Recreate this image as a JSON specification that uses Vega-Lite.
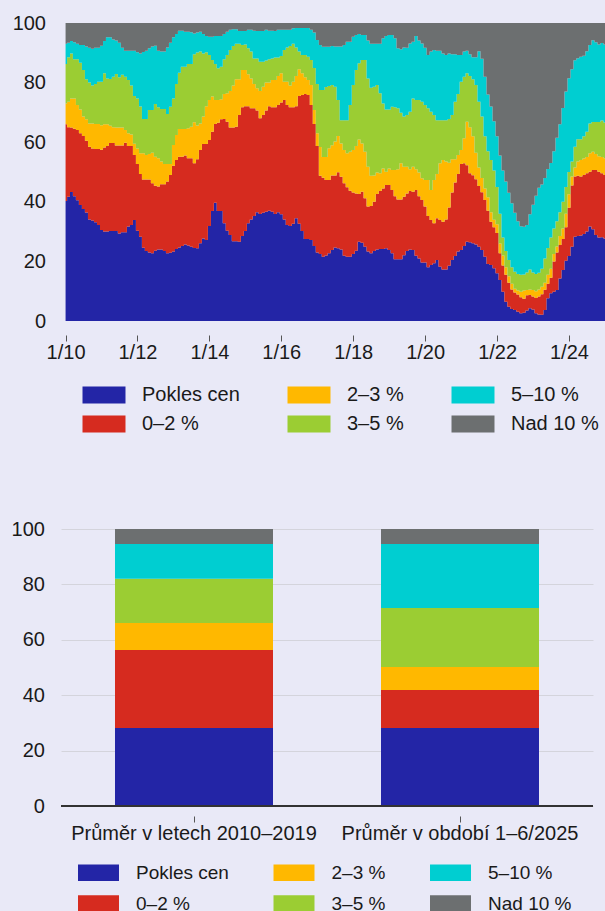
{
"$schema": "https://vega.github.io/schema/vega-lite/v6.json",
"background": "#e9e9f7",
"padding": {"left": 11, "top": 13, "right": 0, "bottom": 0},
"spacing": 85,
"config": {
  "view": {"stroke": null},
  "font": "Liberation Sans",
  "axis": {"labelFont": "Liberation Sans", "labelFontSize": 20, "labelColor": "#1a1a1a", "title": null, "labelFlush": false, "labelOverlap": false},
  "legend": {"labelFont": "Liberation Sans", "labelColor": "#1a1a1a"}
},
"resolve": {"scale": {"color": "independent", "x": "independent", "y": "independent"}, "legend": {"color": "independent"}},
"vconcat": [
{
  "width": 544, "height": 298,
  "data": {"values": [
{"d":"2010-01-01T00:00","Pokles cen":40.3,"0–2 %":25.7,"2–3 %":7.0,"3–5 %":13.2,"5–10 %":6.8,"Nad 10 %":7.0},
{"d":"2010-02-01T00:00","Pokles cen":41.7,"0–2 %":23.3,"2–3 %":8.6,"3–5 %":14.9,"5–10 %":4.9,"Nad 10 %":6.6},
{"d":"2010-03-01T00:00","Pokles cen":43.3,"0–2 %":21.6,"2–3 %":9.8,"3–5 %":15.1,"5–10 %":4.2,"Nad 10 %":6.0},
{"d":"2010-04-01T00:00","Pokles cen":41.9,"0–2 %":22.6,"2–3 %":10.2,"3–5 %":13.1,"5–10 %":5.7,"Nad 10 %":6.5},
{"d":"2010-05-01T00:00","Pokles cen":40.5,"0–2 %":23.6,"2–3 %":8.4,"3–5 %":15.3,"5–10 %":5.2,"Nad 10 %":7.0},
{"d":"2010-06-01T00:00","Pokles cen":38.9,"0–2 %":24.1,"2–3 %":8.0,"3–5 %":15.7,"5–10 %":5.9,"Nad 10 %":7.4},
{"d":"2010-07-01T00:00","Pokles cen":37.6,"0–2 %":24.5,"2–3 %":6.5,"3–5 %":15.6,"5–10 %":8.4,"Nad 10 %":7.4},
{"d":"2010-08-01T00:00","Pokles cen":36.4,"0–2 %":24.1,"2–3 %":7.2,"3–5 %":13.4,"5–10 %":11.0,"Nad 10 %":7.9},
{"d":"2010-09-01T00:00","Pokles cen":34.1,"0–2 %":24.4,"2–3 %":7.8,"3–5 %":13.7,"5–10 %":11.7,"Nad 10 %":8.3},
{"d":"2010-10-01T00:00","Pokles cen":33.7,"0–2 %":24.2,"2–3 %":8.4,"3–5 %":12.7,"5–10 %":12.4,"Nad 10 %":8.6},
{"d":"2010-11-01T00:00","Pokles cen":33.1,"0–2 %":24.6,"2–3 %":8.4,"3–5 %":13.4,"5–10 %":12.2,"Nad 10 %":8.3},
{"d":"2010-12-01T00:00","Pokles cen":32.2,"0–2 %":25.5,"2–3 %":8.4,"3–5 %":14.2,"5–10 %":11.4,"Nad 10 %":8.3},
{"d":"2011-01-01T00:00","Pokles cen":30.5,"0–2 %":27.0,"2–3 %":8.2,"3–5 %":14.6,"5–10 %":12.1,"Nad 10 %":7.6},
{"d":"2011-02-01T00:00","Pokles cen":30.0,"0–2 %":28.2,"2–3 %":7.8,"3–5 %":17.1,"5–10 %":10.9,"Nad 10 %":6.0},
{"d":"2011-03-01T00:00","Pokles cen":30.0,"0–2 %":28.7,"2–3 %":7.3,"3–5 %":15.4,"5–10 %":13.8,"Nad 10 %":4.8},
{"d":"2011-04-01T00:00","Pokles cen":30.2,"0–2 %":29.5,"2–3 %":5.8,"3–5 %":15.7,"5–10 %":14.0,"Nad 10 %":4.8},
{"d":"2011-05-01T00:00","Pokles cen":30.2,"0–2 %":29.5,"2–3 %":5.3,"3–5 %":17.0,"5–10 %":12.5,"Nad 10 %":5.5},
{"d":"2011-06-01T00:00","Pokles cen":30.2,"0–2 %":28.7,"2–3 %":6.0,"3–5 %":18.0,"5–10 %":11.2,"Nad 10 %":5.9},
{"d":"2011-07-01T00:00","Pokles cen":29.4,"0–2 %":29.5,"2–3 %":6.0,"3–5 %":16.9,"5–10 %":11.6,"Nad 10 %":6.6},
{"d":"2011-08-01T00:00","Pokles cen":29.8,"0–2 %":29.1,"2–3 %":6.0,"3–5 %":17.7,"5–10 %":9.1,"Nad 10 %":8.3},
{"d":"2011-09-01T00:00","Pokles cen":29.8,"0–2 %":30.0,"2–3 %":4.3,"3–5 %":17.9,"5–10 %":8.7,"Nad 10 %":9.3},
{"d":"2011-10-01T00:00","Pokles cen":31.7,"0–2 %":27.0,"2–3 %":4.3,"3–5 %":17.9,"5–10 %":9.8,"Nad 10 %":9.3},
{"d":"2011-11-01T00:00","Pokles cen":32.2,"0–2 %":26.5,"2–3 %":3.9,"3–5 %":16.4,"5–10 %":11.7,"Nad 10 %":9.3},
{"d":"2011-12-01T00:00","Pokles cen":33.9,"0–2 %":21.8,"2–3 %":3.8,"3–5 %":16.0,"5–10 %":15.2,"Nad 10 %":9.3},
{"d":"2012-01-01T00:00","Pokles cen":30.3,"0–2 %":22.4,"2–3 %":5.2,"3–5 %":16.8,"5–10 %":15.5,"Nad 10 %":9.8},
{"d":"2012-02-01T00:00","Pokles cen":28.3,"0–2 %":21.0,"2–3 %":7.0,"3–5 %":15.7,"5–10 %":17.8,"Nad 10 %":10.2},
{"d":"2012-03-01T00:00","Pokles cen":24.6,"0–2 %":22.9,"2–3 %":8.8,"3–5 %":11.5,"5–10 %":22.5,"Nad 10 %":9.7},
{"d":"2012-04-01T00:00","Pokles cen":23.5,"0–2 %":24.0,"2–3 %":8.2,"3–5 %":12.1,"5–10 %":22.9,"Nad 10 %":9.3},
{"d":"2012-05-01T00:00","Pokles cen":23.0,"0–2 %":24.5,"2–3 %":8.5,"3–5 %":14.8,"5–10 %":20.7,"Nad 10 %":8.5},
{"d":"2012-06-01T00:00","Pokles cen":22.7,"0–2 %":23.5,"2–3 %":10.3,"3–5 %":14.3,"5–10 %":21.3,"Nad 10 %":7.9},
{"d":"2012-07-01T00:00","Pokles cen":23.6,"0–2 %":21.8,"2–3 %":9.7,"3–5 %":17.7,"5–10 %":19.6,"Nad 10 %":7.6},
{"d":"2012-08-01T00:00","Pokles cen":24.0,"0–2 %":21.1,"2–3 %":9.5,"3–5 %":17.1,"5–10 %":19.0,"Nad 10 %":9.3},
{"d":"2012-09-01T00:00","Pokles cen":24.0,"0–2 %":21.9,"2–3 %":7.6,"3–5 %":17.6,"5–10 %":19.3,"Nad 10 %":9.6},
{"d":"2012-10-01T00:00","Pokles cen":23.5,"0–2 %":22.4,"2–3 %":6.8,"3–5 %":18.4,"5–10 %":19.3,"Nad 10 %":9.6},
{"d":"2012-11-01T00:00","Pokles cen":22.7,"0–2 %":24.1,"2–3 %":5.9,"3–5 %":16.8,"5–10 %":22.3,"Nad 10 %":8.2},
{"d":"2012-12-01T00:00","Pokles cen":22.9,"0–2 %":26.1,"2–3 %":3.7,"3–5 %":19.2,"5–10 %":21.5,"Nad 10 %":6.6},
{"d":"2013-01-01T00:00","Pokles cen":23.3,"0–2 %":28.8,"2–3 %":7.0,"3–5 %":15.6,"5–10 %":20.5,"Nad 10 %":4.8},
{"d":"2013-02-01T00:00","Pokles cen":24.2,"0–2 %":29.8,"2–3 %":8.4,"3–5 %":17.1,"5–10 %":16.8,"Nad 10 %":3.7},
{"d":"2013-03-01T00:00","Pokles cen":24.7,"0–2 %":30.4,"2–3 %":9.3,"3–5 %":18.9,"5–10 %":14.1,"Nad 10 %":2.6},
{"d":"2013-04-01T00:00","Pokles cen":25.2,"0–2 %":29.9,"2–3 %":9.3,"3–5 %":20.9,"5–10 %":12.1,"Nad 10 %":2.6},
{"d":"2013-05-01T00:00","Pokles cen":25.7,"0–2 %":29.8,"2–3 %":8.9,"3–5 %":20.9,"5–10 %":11.8,"Nad 10 %":2.9},
{"d":"2013-06-01T00:00","Pokles cen":25.3,"0–2 %":29.3,"2–3 %":10.1,"3–5 %":21.5,"5–10 %":10.9,"Nad 10 %":2.9},
{"d":"2013-07-01T00:00","Pokles cen":24.9,"0–2 %":29.7,"2–3 %":10.6,"3–5 %":21.0,"5–10 %":10.7,"Nad 10 %":3.1},
{"d":"2013-08-01T00:00","Pokles cen":24.5,"0–2 %":28.4,"2–3 %":13.8,"3–5 %":22.8,"5–10 %":7.0,"Nad 10 %":3.5},
{"d":"2013-09-01T00:00","Pokles cen":24.4,"0–2 %":29.9,"2–3 %":11.3,"3–5 %":24.5,"5–10 %":6.7,"Nad 10 %":3.2},
{"d":"2013-10-01T00:00","Pokles cen":26.1,"0–2 %":31.3,"2–3 %":8.9,"3–5 %":24.1,"5–10 %":6.7,"Nad 10 %":2.9},
{"d":"2013-11-01T00:00","Pokles cen":27.7,"0–2 %":31.7,"2–3 %":9.2,"3–5 %":21.2,"5–10 %":6.5,"Nad 10 %":3.7},
{"d":"2013-12-01T00:00","Pokles cen":27.2,"0–2 %":32.2,"2–3 %":12.7,"3–5 %":18.1,"5–10 %":5.4,"Nad 10 %":4.4},
{"d":"2014-01-01T00:00","Pokles cen":31.9,"0–2 %":28.8,"2–3 %":13.5,"3–5 %":15.1,"5–10 %":6.1,"Nad 10 %":4.6},
{"d":"2014-02-01T00:00","Pokles cen":36.9,"0–2 %":26.6,"2–3 %":11.8,"3–5 %":12.3,"5–10 %":7.8,"Nad 10 %":4.6},
{"d":"2014-03-01T00:00","Pokles cen":39.7,"0–2 %":26.4,"2–3 %":8.1,"3–5 %":12.0,"5–10 %":9.4,"Nad 10 %":4.4},
{"d":"2014-04-01T00:00","Pokles cen":36.9,"0–2 %":29.6,"2–3 %":7.7,"3–5 %":10.6,"5–10 %":10.8,"Nad 10 %":4.4},
{"d":"2014-05-01T00:00","Pokles cen":36.9,"0–2 %":30.8,"2–3 %":6.7,"3–5 %":10.9,"5–10 %":10.3,"Nad 10 %":4.4},
{"d":"2014-06-01T00:00","Pokles cen":32.8,"0–2 %":35.0,"2–3 %":8.4,"3–5 %":11.6,"5–10 %":8.5,"Nad 10 %":3.7},
{"d":"2014-07-01T00:00","Pokles cen":30.3,"0–2 %":36.6,"2–3 %":9.5,"3–5 %":12.9,"5–10 %":7.8,"Nad 10 %":2.9},
{"d":"2014-08-01T00:00","Pokles cen":28.9,"0–2 %":36.0,"2–3 %":12.3,"3–5 %":13.7,"5–10 %":6.8,"Nad 10 %":2.3},
{"d":"2014-09-01T00:00","Pokles cen":26.8,"0–2 %":38.1,"2–3 %":14.1,"3–5 %":13.3,"5–10 %":5.6,"Nad 10 %":2.1},
{"d":"2014-10-01T00:00","Pokles cen":26.8,"0–2 %":38.4,"2–3 %":15.9,"3–5 %":11.9,"5–10 %":4.9,"Nad 10 %":2.1},
{"d":"2014-11-01T00:00","Pokles cen":26.6,"0–2 %":42.5,"2–3 %":12.0,"3–5 %":11.9,"5–10 %":4.3,"Nad 10 %":2.7},
{"d":"2014-12-01T00:00","Pokles cen":28.5,"0–2 %":43.2,"2–3 %":12.5,"3–5 %":8.4,"5–10 %":4.7,"Nad 10 %":2.7},
{"d":"2015-01-01T00:00","Pokles cen":30.2,"0–2 %":41.9,"2–3 %":12.1,"3–5 %":8.6,"5–10 %":4.5,"Nad 10 %":2.7},
{"d":"2015-02-01T00:00","Pokles cen":32.8,"0–2 %":39.3,"2–3 %":10.7,"3–5 %":8.7,"5–10 %":6.2,"Nad 10 %":2.3},
{"d":"2015-03-01T00:00","Pokles cen":34.1,"0–2 %":37.3,"2–3 %":10.0,"3–5 %":9.0,"5–10 %":7.3,"Nad 10 %":2.3},
{"d":"2015-04-01T00:00","Pokles cen":35.2,"0–2 %":36.2,"2–3 %":8.1,"3–5 %":8.6,"5–10 %":9.3,"Nad 10 %":2.6},
{"d":"2015-05-01T00:00","Pokles cen":36.5,"0–2 %":34.1,"2–3 %":7.5,"3–5 %":10.0,"5–10 %":9.2,"Nad 10 %":2.7},
{"d":"2015-06-01T00:00","Pokles cen":35.9,"0–2 %":32.1,"2–3 %":9.2,"3–5 %":9.8,"5–10 %":10.3,"Nad 10 %":2.7},
{"d":"2015-07-01T00:00","Pokles cen":36.3,"0–2 %":32.8,"2–3 %":9.5,"3–5 %":8.4,"5–10 %":10.3,"Nad 10 %":2.7},
{"d":"2015-08-01T00:00","Pokles cen":36.7,"0–2 %":33.9,"2–3 %":9.4,"3–5 %":7.4,"5–10 %":10.3,"Nad 10 %":2.3},
{"d":"2015-09-01T00:00","Pokles cen":37.0,"0–2 %":35.1,"2–3 %":7.9,"3–5 %":7.8,"5–10 %":9.6,"Nad 10 %":2.6},
{"d":"2015-10-01T00:00","Pokles cen":36.7,"0–2 %":35.0,"2–3 %":9.2,"3–5 %":7.2,"5–10 %":9.3,"Nad 10 %":2.6},
{"d":"2015-11-01T00:00","Pokles cen":35.9,"0–2 %":35.8,"2–3 %":9.2,"3–5 %":7.5,"5–10 %":8.9,"Nad 10 %":2.7},
{"d":"2015-12-01T00:00","Pokles cen":36.5,"0–2 %":36.0,"2–3 %":9.7,"3–5 %":6.2,"5–10 %":9.3,"Nad 10 %":2.3},
{"d":"2016-01-01T00:00","Pokles cen":35.8,"0–2 %":37.5,"2–3 %":9.8,"3–5 %":5.8,"5–10 %":8.8,"Nad 10 %":2.3},
{"d":"2016-02-01T00:00","Pokles cen":34.1,"0–2 %":40.1,"2–3 %":6.1,"3–5 %":10.6,"5–10 %":6.8,"Nad 10 %":2.3},
{"d":"2016-03-01T00:00","Pokles cen":32.2,"0–2 %":40.3,"2–3 %":7.8,"3–5 %":11.5,"5–10 %":5.9,"Nad 10 %":2.3},
{"d":"2016-04-01T00:00","Pokles cen":31.9,"0–2 %":39.8,"2–3 %":7.3,"3–5 %":13.3,"5–10 %":5.4,"Nad 10 %":2.3},
{"d":"2016-05-01T00:00","Pokles cen":32.6,"0–2 %":39.1,"2–3 %":8.6,"3–5 %":12.7,"5–10 %":5.2,"Nad 10 %":1.8},
{"d":"2016-06-01T00:00","Pokles cen":34.5,"0–2 %":37.6,"2–3 %":10.1,"3–5 %":9.6,"5–10 %":6.5,"Nad 10 %":1.7},
{"d":"2016-07-01T00:00","Pokles cen":32.6,"0–2 %":42.9,"2–3 %":9.0,"3–5 %":5.9,"5–10 %":7.9,"Nad 10 %":1.7},
{"d":"2016-08-01T00:00","Pokles cen":30.2,"0–2 %":45.6,"2–3 %":7.3,"3–5 %":6.2,"5–10 %":9.0,"Nad 10 %":1.7},
{"d":"2016-09-01T00:00","Pokles cen":27.5,"0–2 %":48.7,"2–3 %":5.6,"3–5 %":7.5,"5–10 %":9.0,"Nad 10 %":1.7},
{"d":"2016-10-01T00:00","Pokles cen":27.5,"0–2 %":48.3,"2–3 %":5.1,"3–5 %":7.8,"5–10 %":9.6,"Nad 10 %":1.7},
{"d":"2016-11-01T00:00","Pokles cen":27.2,"0–2 %":45.3,"2–3 %":6.7,"3–5 %":8.4,"5–10 %":10.1,"Nad 10 %":2.3},
{"d":"2016-12-01T00:00","Pokles cen":25.2,"0–2 %":40.9,"2–3 %":4.7,"3–5 %":14.1,"5–10 %":11.9,"Nad 10 %":3.2},
{"d":"2017-01-01T00:00","Pokles cen":23.0,"0–2 %":35.7,"2–3 %":4.3,"3–5 %":16.5,"5–10 %":14.8,"Nad 10 %":5.7},
{"d":"2017-02-01T00:00","Pokles cen":22.5,"0–2 %":26.2,"2–3 %":9.7,"3–5 %":19.1,"5–10 %":15.1,"Nad 10 %":7.4},
{"d":"2017-03-01T00:00","Pokles cen":21.6,"0–2 %":26.5,"2–3 %":6.9,"3–5 %":22.5,"5–10 %":14.5,"Nad 10 %":8.0},
{"d":"2017-04-01T00:00","Pokles cen":22.0,"0–2 %":25.3,"2–3 %":7.7,"3–5 %":23.5,"5–10 %":13.5,"Nad 10 %":8.0},
{"d":"2017-05-01T00:00","Pokles cen":22.7,"0–2 %":24.6,"2–3 %":10.7,"3–5 %":20.9,"5–10 %":13.1,"Nad 10 %":8.0},
{"d":"2017-06-01T00:00","Pokles cen":23.8,"0–2 %":25.0,"2–3 %":10.2,"3–5 %":20.2,"5–10 %":13.1,"Nad 10 %":7.7},
{"d":"2017-07-01T00:00","Pokles cen":24.7,"0–2 %":24.1,"2–3 %":11.4,"3–5 %":18.4,"5–10 %":13.5,"Nad 10 %":7.9},
{"d":"2017-08-01T00:00","Pokles cen":24.4,"0–2 %":25.5,"2–3 %":12.2,"3–5 %":12.1,"5–10 %":17.9,"Nad 10 %":7.9},
{"d":"2017-09-01T00:00","Pokles cen":24.0,"0–2 %":24.4,"2–3 %":11.2,"3–5 %":7.8,"5–10 %":24.7,"Nad 10 %":7.9},
{"d":"2017-10-01T00:00","Pokles cen":21.9,"0–2 %":24.3,"2–3 %":11.2,"3–5 %":10.0,"5–10 %":25.2,"Nad 10 %":7.4},
{"d":"2017-11-01T00:00","Pokles cen":21.6,"0–2 %":23.3,"2–3 %":11.4,"3–5 %":11.1,"5–10 %":26.3,"Nad 10 %":6.3},
{"d":"2017-12-01T00:00","Pokles cen":21.6,"0–2 %":22.1,"2–3 %":13.1,"3–5 %":15.7,"5–10 %":21.2,"Nad 10 %":6.3},
{"d":"2018-01-01T00:00","Pokles cen":22.5,"0–2 %":20.6,"2–3 %":14.3,"3–5 %":21.8,"5–10 %":16.2,"Nad 10 %":4.6},
{"d":"2018-02-01T00:00","Pokles cen":23.6,"0–2 %":19.2,"2–3 %":15.9,"3–5 %":25.5,"5–10 %":11.8,"Nad 10 %":4.0},
{"d":"2018-03-01T00:00","Pokles cen":26.6,"0–2 %":16.0,"2–3 %":18.3,"3–5 %":25.6,"5–10 %":9.8,"Nad 10 %":3.7},
{"d":"2018-04-01T00:00","Pokles cen":26.3,"0–2 %":17.1,"2–3 %":16.2,"3–5 %":28.0,"5–10 %":8.4,"Nad 10 %":4.0},
{"d":"2018-05-01T00:00","Pokles cen":24.9,"0–2 %":16.3,"2–3 %":15.6,"3–5 %":30.8,"5–10 %":8.4,"Nad 10 %":4.0},
{"d":"2018-06-01T00:00","Pokles cen":23.3,"0–2 %":15.1,"2–3 %":13.4,"3–5 %":29.6,"5–10 %":12.7,"Nad 10 %":5.9},
{"d":"2018-07-01T00:00","Pokles cen":22.7,"0–2 %":15.9,"2–3 %":10.1,"3–5 %":29.6,"5–10 %":14.7,"Nad 10 %":7.0},
{"d":"2018-08-01T00:00","Pokles cen":23.5,"0–2 %":16.5,"2–3 %":8.8,"3–5 %":29.8,"5–10 %":14.4,"Nad 10 %":7.0},
{"d":"2018-09-01T00:00","Pokles cen":24.0,"0–2 %":18.6,"2–3 %":7.2,"3–5 %":29.4,"5–10 %":13.8,"Nad 10 %":7.0},
{"d":"2018-10-01T00:00","Pokles cen":24.2,"0–2 %":19.4,"2–3 %":6.0,"3–5 %":26.8,"5–10 %":16.6,"Nad 10 %":7.0},
{"d":"2018-11-01T00:00","Pokles cen":24.2,"0–2 %":20.3,"2–3 %":6.7,"3–5 %":21.8,"5–10 %":21.9,"Nad 10 %":5.1},
{"d":"2018-12-01T00:00","Pokles cen":24.4,"0–2 %":21.2,"2–3 %":4.5,"3–5 %":20.9,"5–10 %":24.6,"Nad 10 %":4.4},
{"d":"2019-01-01T00:00","Pokles cen":23.8,"0–2 %":21.8,"2–3 %":5.6,"3–5 %":19.8,"5–10 %":25.0,"Nad 10 %":4.0},
{"d":"2019-02-01T00:00","Pokles cen":22.7,"0–2 %":21.3,"2–3 %":6.7,"3–5 %":21.2,"5–10 %":24.1,"Nad 10 %":4.0},
{"d":"2019-03-01T00:00","Pokles cen":20.7,"0–2 %":21.2,"2–3 %":8.8,"3–5 %":21.0,"5–10 %":23.2,"Nad 10 %":5.1},
{"d":"2019-04-01T00:00","Pokles cen":20.7,"0–2 %":20.1,"2–3 %":10.1,"3–5 %":20.5,"5–10 %":20.1,"Nad 10 %":8.5},
{"d":"2019-05-01T00:00","Pokles cen":20.7,"0–2 %":20.1,"2–3 %":12.1,"3–5 %":17.0,"5–10 %":21.3,"Nad 10 %":8.8},
{"d":"2019-06-01T00:00","Pokles cen":22.1,"0–2 %":19.6,"2–3 %":10.1,"3–5 %":16.8,"5–10 %":23.2,"Nad 10 %":8.2},
{"d":"2019-07-01T00:00","Pokles cen":23.5,"0–2 %":19.3,"2–3 %":9.0,"3–5 %":17.3,"5–10 %":22.6,"Nad 10 %":8.3},
{"d":"2019-08-01T00:00","Pokles cen":24.0,"0–2 %":19.6,"2–3 %":7.3,"3–5 %":19.3,"5–10 %":22.9,"Nad 10 %":6.9},
{"d":"2019-09-01T00:00","Pokles cen":23.8,"0–2 %":19.6,"2–3 %":8.4,"3–5 %":22.9,"5–10 %":19.0,"Nad 10 %":6.3},
{"d":"2019-10-01T00:00","Pokles cen":21.9,"0–2 %":22.1,"2–3 %":6.9,"3–5 %":23.3,"5–10 %":21.4,"Nad 10 %":4.4},
{"d":"2019-11-01T00:00","Pokles cen":21.0,"0–2 %":20.9,"2–3 %":7.9,"3–5 %":24.4,"5–10 %":19.9,"Nad 10 %":5.9},
{"d":"2019-12-01T00:00","Pokles cen":19.6,"0–2 %":21.0,"2–3 %":7.3,"3–5 %":25.7,"5–10 %":19.5,"Nad 10 %":6.9},
{"d":"2020-01-01T00:00","Pokles cen":19.6,"0–2 %":18.8,"2–3 %":8.9,"3–5 %":25.2,"5–10 %":19.2,"Nad 10 %":8.3},
{"d":"2020-02-01T00:00","Pokles cen":18.0,"0–2 %":17.2,"2–3 %":12.1,"3–5 %":24.1,"5–10 %":17.9,"Nad 10 %":10.7},
{"d":"2020-03-01T00:00","Pokles cen":18.8,"0–2 %":15.1,"2–3 %":10.1,"3–5 %":26.2,"5–10 %":20.2,"Nad 10 %":9.6},
{"d":"2020-04-01T00:00","Pokles cen":19.4,"0–2 %":13.4,"2–3 %":14.5,"3–5 %":21.8,"5–10 %":21.8,"Nad 10 %":9.1},
{"d":"2020-05-01T00:00","Pokles cen":20.5,"0–2 %":14.0,"2–3 %":14.8,"3–5 %":18.1,"5–10 %":23.3,"Nad 10 %":9.3},
{"d":"2020-06-01T00:00","Pokles cen":18.2,"0–2 %":15.7,"2–3 %":19.0,"3–5 %":14.5,"5–10 %":23.3,"Nad 10 %":9.3},
{"d":"2020-07-01T00:00","Pokles cen":17.3,"0–2 %":16.0,"2–3 %":20.7,"3–5 %":13.4,"5–10 %":22.4,"Nad 10 %":10.2},
{"d":"2020-08-01T00:00","Pokles cen":17.3,"0–2 %":16.8,"2–3 %":19.4,"3–5 %":13.9,"5–10 %":21.9,"Nad 10 %":10.7},
{"d":"2020-09-01T00:00","Pokles cen":18.5,"0–2 %":19.6,"2–3 %":15.0,"3–5 %":14.7,"5–10 %":22.0,"Nad 10 %":10.2},
{"d":"2020-10-01T00:00","Pokles cen":20.5,"0–2 %":22.6,"2–3 %":11.2,"3–5 %":14.8,"5–10 %":20.4,"Nad 10 %":10.5},
{"d":"2020-11-01T00:00","Pokles cen":21.8,"0–2 %":24.7,"2–3 %":7.8,"3–5 %":19.3,"5–10 %":15.9,"Nad 10 %":10.5},
{"d":"2020-12-01T00:00","Pokles cen":23.3,"0–2 %":26.0,"2–3 %":6.4,"3–5 %":20.5,"5–10 %":13.1,"Nad 10 %":10.7},
{"d":"2021-01-01T00:00","Pokles cen":23.8,"0–2 %":28.9,"2–3 %":4.7,"3–5 %":22.9,"5–10 %":9.0,"Nad 10 %":10.7},
{"d":"2021-02-01T00:00","Pokles cen":25.2,"0–2 %":27.7,"2–3 %":8.4,"3–5 %":20.7,"5–10 %":8.4,"Nad 10 %":9.6},
{"d":"2021-03-01T00:00","Pokles cen":26.6,"0–2 %":25.7,"2–3 %":14.6,"3–5 %":16.2,"5–10 %":7.6,"Nad 10 %":9.3},
{"d":"2021-04-01T00:00","Pokles cen":26.4,"0–2 %":23.2,"2–3 %":15.4,"3–5 %":17.2,"5–10 %":7.3,"Nad 10 %":10.5},
{"d":"2021-05-01T00:00","Pokles cen":26.1,"0–2 %":22.8,"2–3 %":13.1,"3–5 %":19.1,"5–10 %":7.4,"Nad 10 %":11.5},
{"d":"2021-06-01T00:00","Pokles cen":25.7,"0–2 %":21.9,"2–3 %":8.9,"3–5 %":22.7,"5–10 %":9.3,"Nad 10 %":11.5},
{"d":"2021-07-01T00:00","Pokles cen":24.9,"0–2 %":20.4,"2–3 %":6.2,"3–5 %":22.1,"5–10 %":16.9,"Nad 10 %":9.5},
{"d":"2021-08-01T00:00","Pokles cen":23.8,"0–2 %":19.4,"2–3 %":4.8,"3–5 %":20.6,"5–10 %":19.4,"Nad 10 %":12.0},
{"d":"2021-09-01T00:00","Pokles cen":21.6,"0–2 %":19.0,"2–3 %":3.9,"3–5 %":17.5,"5–10 %":20.0,"Nad 10 %":18.0},
{"d":"2021-10-01T00:00","Pokles cen":19.1,"0–2 %":17.9,"2–3 %":4.5,"3–5 %":15.5,"5–10 %":19.0,"Nad 10 %":24.0},
{"d":"2021-11-01T00:00","Pokles cen":18.8,"0–2 %":14.5,"2–3 %":3.2,"3–5 %":17.5,"5–10 %":18.0,"Nad 10 %":28.0},
{"d":"2021-12-01T00:00","Pokles cen":17.7,"0–2 %":13.8,"2–3 %":2.5,"3–5 %":16.5,"5–10 %":16.5,"Nad 10 %":33.0},
{"d":"2022-01-01T00:00","Pokles cen":16.0,"0–2 %":13.5,"2–3 %":3.0,"3–5 %":12.5,"5–10 %":17.0,"Nad 10 %":38.0},
{"d":"2022-02-01T00:00","Pokles cen":13.8,"0–2 %":8.9,"2–3 %":3.3,"3–5 %":10.0,"5–10 %":19.5,"Nad 10 %":44.5},
{"d":"2022-03-01T00:00","Pokles cen":9.8,"0–2 %":8.8,"2–3 %":3.4,"3–5 %":6.0,"5–10 %":22.5,"Nad 10 %":49.5},
{"d":"2022-04-01T00:00","Pokles cen":6.5,"0–2 %":9.0,"2–3 %":2.5,"3–5 %":5.5,"5–10 %":23.3,"Nad 10 %":53.2},
{"d":"2022-05-01T00:00","Pokles cen":4.8,"0–2 %":8.0,"2–3 %":2.2,"3–5 %":5.5,"5–10 %":22.5,"Nad 10 %":57.0},
{"d":"2022-06-01T00:00","Pokles cen":4.0,"0–2 %":6.6,"2–3 %":1.9,"3–5 %":5.5,"5–10 %":21.5,"Nad 10 %":60.5},
{"d":"2022-07-01T00:00","Pokles cen":3.7,"0–2 %":5.9,"2–3 %":1.2,"3–5 %":5.7,"5–10 %":19.8,"Nad 10 %":63.7},
{"d":"2022-08-01T00:00","Pokles cen":3.1,"0–2 %":5.8,"2–3 %":1.3,"3–5 %":5.6,"5–10 %":17.7,"Nad 10 %":66.5},
{"d":"2022-09-01T00:00","Pokles cen":2.6,"0–2 %":5.4,"2–3 %":1.8,"3–5 %":5.7,"5–10 %":16.3,"Nad 10 %":68.2},
{"d":"2022-10-01T00:00","Pokles cen":2.8,"0–2 %":4.7,"2–3 %":2.7,"3–5 %":5.4,"5–10 %":16.0,"Nad 10 %":68.4},
{"d":"2022-11-01T00:00","Pokles cen":3.5,"0–2 %":5.1,"2–3 %":1.8,"3–5 %":5.9,"5–10 %":15.9,"Nad 10 %":67.8},
{"d":"2022-12-01T00:00","Pokles cen":4.3,"0–2 %":4.4,"2–3 %":1.9,"3–5 %":6.7,"5–10 %":18.5,"Nad 10 %":64.2},
{"d":"2023-01-01T00:00","Pokles cen":3.9,"0–2 %":4.3,"2–3 %":2.2,"3–5 %":5.9,"5–10 %":22.7,"Nad 10 %":61.0},
{"d":"2023-02-01T00:00","Pokles cen":2.6,"0–2 %":5.1,"2–3 %":2.3,"3–5 %":5.8,"5–10 %":26.2,"Nad 10 %":58.0},
{"d":"2023-03-01T00:00","Pokles cen":2.2,"0–2 %":6.0,"2–3 %":2.4,"3–5 %":5.6,"5–10 %":28.5,"Nad 10 %":55.3},
{"d":"2023-04-01T00:00","Pokles cen":2.1,"0–2 %":6.9,"2–3 %":2.5,"3–5 %":6.0,"5–10 %":28.3,"Nad 10 %":54.2},
{"d":"2023-05-01T00:00","Pokles cen":3.7,"0–2 %":6.8,"2–3 %":2.3,"3–5 %":8.2,"5–10 %":27.0,"Nad 10 %":52.0},
{"d":"2023-06-01T00:00","Pokles cen":7.6,"0–2 %":4.9,"2–3 %":3.0,"3–5 %":9.0,"5–10 %":26.5,"Nad 10 %":49.0},
{"d":"2023-07-01T00:00","Pokles cen":9.3,"0–2 %":5.2,"2–3 %":3.0,"3–5 %":10.5,"5–10 %":25.0,"Nad 10 %":47.0},
{"d":"2023-08-01T00:00","Pokles cen":9.8,"0–2 %":10.2,"2–3 %":2.5,"3–5 %":8.5,"5–10 %":26.0,"Nad 10 %":43.0},
{"d":"2023-09-01T00:00","Pokles cen":10.4,"0–2 %":12.6,"2–3 %":2.0,"3–5 %":8.5,"5–10 %":28.0,"Nad 10 %":38.5},
{"d":"2023-10-01T00:00","Pokles cen":14.3,"0–2 %":11.2,"2–3 %":3.0,"3–5 %":8.0,"5–10 %":29.5,"Nad 10 %":34.0},
{"d":"2023-11-01T00:00","Pokles cen":17.1,"0–2 %":10.4,"2–3 %":3.5,"3–5 %":9.0,"5–10 %":31.5,"Nad 10 %":28.5},
{"d":"2023-12-01T00:00","Pokles cen":20.2,"0–2 %":11.3,"2–3 %":4.5,"3–5 %":9.0,"5–10 %":32.0,"Nad 10 %":23.0},
{"d":"2024-01-01T00:00","Pokles cen":21.8,"0–2 %":16.2,"2–3 %":4.5,"3–5 %":7.5,"5–10 %":31.5,"Nad 10 %":18.5},
{"d":"2024-02-01T00:00","Pokles cen":24.9,"0–2 %":20.6,"2–3 %":3.0,"3–5 %":5.0,"5–10 %":31.0,"Nad 10 %":15.5},
{"d":"2024-03-01T00:00","Pokles cen":28.3,"0–2 %":20.2,"2–3 %":3.0,"3–5 %":7.0,"5–10 %":29.0,"Nad 10 %":12.5},
{"d":"2024-04-01T00:00","Pokles cen":28.5,"0–2 %":20.2,"2–3 %":4.8,"3–5 %":7.5,"5–10 %":27.2,"Nad 10 %":11.8},
{"d":"2024-05-01T00:00","Pokles cen":28.7,"0–2 %":19.8,"2–3 %":5.5,"3–5 %":7.0,"5–10 %":27.7,"Nad 10 %":11.3},
{"d":"2024-06-01T00:00","Pokles cen":29.2,"0–2 %":19.8,"2–3 %":5.5,"3–5 %":7.5,"5–10 %":27.0,"Nad 10 %":11.0},
{"d":"2024-07-01T00:00","Pokles cen":30.0,"0–2 %":19.6,"2–3 %":5.4,"3–5 %":8.5,"5–10 %":27.0,"Nad 10 %":9.5},
{"d":"2024-08-01T00:00","Pokles cen":31.7,"0–2 %":18.4,"2–3 %":6.2,"3–5 %":10.0,"5–10 %":26.3,"Nad 10 %":7.4},
{"d":"2024-09-01T00:00","Pokles cen":30.8,"0–2 %":19.9,"2–3 %":6.1,"3–5 %":10.0,"5–10 %":27.4,"Nad 10 %":5.8},
{"d":"2024-10-01T00:00","Pokles cen":28.9,"0–2 %":21.8,"2–3 %":5.3,"3–5 %":10.8,"5–10 %":26.7,"Nad 10 %":6.5},
{"d":"2024-11-01T00:00","Pokles cen":28.0,"0–2 %":22.1,"2–3 %":5.2,"3–5 %":11.5,"5–10 %":26.0,"Nad 10 %":7.2},
{"d":"2024-12-01T00:00","Pokles cen":28.1,"0–2 %":21.5,"2–3 %":5.4,"3–5 %":12.3,"5–10 %":26.0,"Nad 10 %":7.2},
{"d":"2025-01-01T00:00","Pokles cen":27.7,"0–2 %":21.3,"2–3 %":5.6,"3–5 %":12.0,"5–10 %":26.2,"Nad 10 %":7.2}
  ]},
  "transform": [
    {"fold": ["Pokles cen","0–2 %","2–3 %","3–5 %","5–10 %","Nad 10 %"], "as": ["k","v"]},
    {"calculate": "indexof(['Pokles cen','0–2 %','2–3 %','3–5 %','5–10 %','Nad 10 %'], datum.k)", "as": "o"}
  ],
  "mark": {"type": "area", "interpolate": "step", "clip": true, "opacity": 1},
  "encoding": {
    "x": {"field": "d", "type": "temporal",
      "scale": {"domain": [{"year":2009,"month":12,"date":16},{"year":2025,"month":1,"date":1}], "range": [3, 544]},
      "axis": {"values": [{"year":2010,"month":1,"date":1},{"year":2012,"month":1,"date":1},{"year":2014,"month":1,"date":1},{"year":2016,"month":1,"date":1},{"year":2018,"month":1,"date":1},{"year":2020,"month":1,"date":1},{"year":2022,"month":1,"date":1},{"year":2024,"month":1,"date":1}],
        "format": "%-m/%y", "domain": false, "grid": false, "ticks": true, "tickSize": 6, "tickColor": "#555555", "offset": 14, "labelPadding": 1, "title": null}},
    "y": {"field": "v", "type": "quantitative", "stack": "zero",
      "scale": {"domain": [0,100], "nice": false},
      "axis": {"values": [0,20,40,60,80,100], "domain": false, "grid": false, "ticks": false, "tickSize": 0, "labelPadding": 15.5, "title": null}},
    "color": {"field": "k", "type": "nominal",
      "scale": {"domain": ["Pokles cen","2–3 %","5–10 %","0–2 %","3–5 %","Nad 10 %"], "range": ["#2325a6","#ffb800","#00ced1","#d62b1f","#9bcd33","#6c6f70"]},
      "legend": {"title": null, "orient": "none", "legendX": 32, "legendY": 361, "direction": "horizontal", "columns": 3,
        "symbolType": "M-2,-0.8H2V0.8H-2Z", "symbolSize": 462, "symbolStrokeWidth": 0, "symbolOpacity": 1,
        "labelFontSize": 20, "labelOffset": 27, "columnPadding": 47, "rowPadding": 8, "padding": 0, "labelLimit": 300}},
    "order": {"field": "o", "type": "quantitative"}
  }
},
{
  "width": 532, "height": 277,
  "data": {"values": [
    {"p":"Průměr v letech 2010–2019","k":"Pokles cen","v":28.2},
    {"p":"Průměr v letech 2010–2019","k":"0–2 %","v":28.1},
    {"p":"Průměr v letech 2010–2019","k":"2–3 %","v":9.8},
    {"p":"Průměr v letech 2010–2019","k":"3–5 %","v":15.9},
    {"p":"Průměr v letech 2010–2019","k":"5–10 %","v":12.6},
    {"p":"Průměr v letech 2010–2019","k":"Nad 10 %","v":5.4},
    {"p":"Průměr v období 1–6/2025","k":"Pokles cen","v":28.2},
    {"p":"Průměr v období 1–6/2025","k":"0–2 %","v":13.7},
    {"p":"Průměr v období 1–6/2025","k":"2–3 %","v":8.3},
    {"p":"Průměr v období 1–6/2025","k":"3–5 %","v":21.3},
    {"p":"Průměr v období 1–6/2025","k":"5–10 %","v":23.1},
    {"p":"Průměr v období 1–6/2025","k":"Nad 10 %","v":5.4}
  ]},
  "transform": [
    {"calculate": "indexof(['Pokles cen','0–2 %','2–3 %','3–5 %','5–10 %','Nad 10 %'], datum.k)", "as": "o"}
  ],
  "layer": [
    {
      "mark": {"type": "bar"},
      "encoding": {
        "x": {"field": "p", "type": "nominal", "sort": null,
          "scale": {"paddingInner": 0.406, "paddingOuter": 0.203},
          "axis": {"domain": false, "ticks": true, "tickSize": 6, "tickColor": "#555555", "offset": 10, "labelPadding": 1, "labelAngle": 0, "labelLimit": 0, "title": null}},
        "y": {"field": "v", "type": "quantitative", "stack": "zero",
          "scale": {"domain": [0,100], "nice": false},
          "axis": {"values": [0,20,40,60,80,100], "grid": true, "gridColor": "#d4d4dc", "gridWidth": 1, "domain": false, "ticks": false, "tickSize": 0, "labelPadding": 16.6, "title": null}},
        "color": {"field": "k", "type": "nominal",
          "scale": {"domain": ["Pokles cen","2–3 %","5–10 %","0–2 %","3–5 %","Nad 10 %"], "range": ["#2325a6","#ffb800","#00ced1","#d62b1f","#9bcd33","#6c6f70"]},
          "legend": {"title": null, "orient": "none", "legendX": 27, "legendY": 333, "direction": "horizontal", "columns": 3,
            "symbolType": "M-2,-0.8H2V0.8H-2Z", "symbolSize": 420, "symbolStrokeWidth": 0, "symbolOpacity": 1,
            "labelFontSize": 19, "labelOffset": 27, "columnPadding": 44.5, "rowPadding": 10, "padding": 0, "labelLimit": 300}},
        "order": {"field": "o", "type": "quantitative"}
      }
    },
    {
      "mark": {"type": "rule", "color": "#333333", "strokeWidth": 1.5},
      "encoding": {"y": {"datum": 0}}
    }
  ]
}
]
}
